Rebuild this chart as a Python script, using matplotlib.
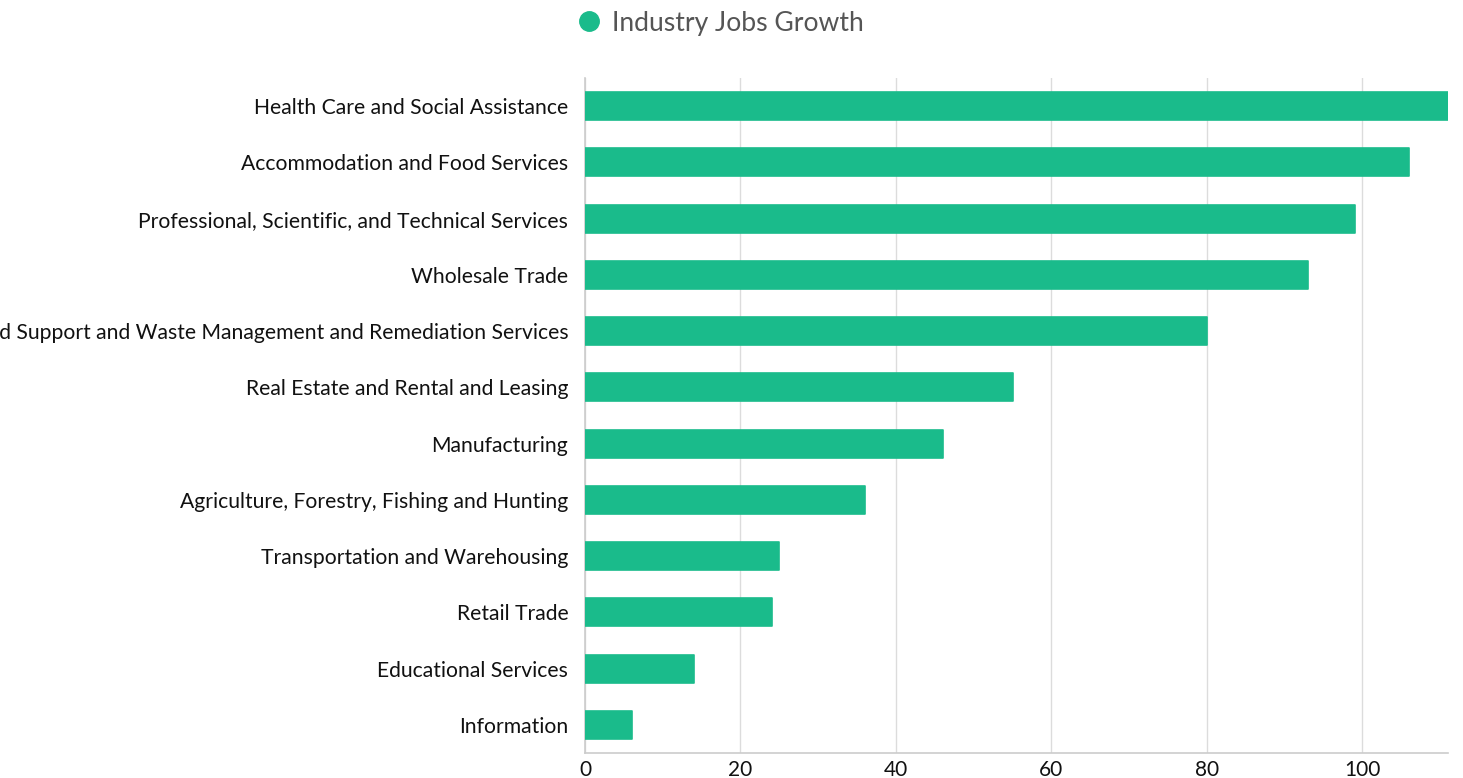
import matplotlib
matplotlib.use("Agg")
import matplotlib.pyplot as plt
from matplotlib.lines import Line2D

industries = [
    "Health Care and Social Assistance",
    "Accommodation and Food Services",
    "Professional, Scientific, and Technical Services",
    "Wholesale Trade",
    "Administrative and Support and Waste Management and Remediation Services",
    "Real Estate and Rental and Leasing",
    "Manufacturing",
    "Agriculture, Forestry, Fishing and Hunting",
    "Transportation and Warehousing",
    "Retail Trade",
    "Educational Services",
    "Information",
]
jobs_growth = [111, 106, 99, 93, 80, 55, 46, 36, 25, 24, 14, 6]
x_ticks = [0, 20, 40, 60, 80, 100]

bar_color = "#1ABB8B"
plt.rcParams["font.family"] = ["Lato", "DejaVu Sans"]

fig = plt.figure(figsize=(14.63, 7.78), dpi=100)
ax = fig.add_axes([585 / 1463, 1 - 753 / 778, (1448 - 585) / 1463, (753 - 78) / 778])

pos = list(range(len(industries)))
ax.barh(pos, jobs_growth, height=0.5, color=bar_color, edgecolor=bar_color,
        linewidth=1.2, joinstyle="round", zorder=3)

ax.set_ylim(len(industries) - 0.5, -0.5)
ax.set_xlim(0, 111)
ax.set_yticks(pos)
ax.set_yticklabels(industries)
ax.set_xticks(x_ticks)

ax.grid(axis="x", color="#dcdcdc", linewidth=1, zorder=0)
ax.grid(axis="y", visible=False)
for side in ["top", "right"]:
    ax.spines[side].set_visible(False)
for side in ["left", "bottom"]:
    ax.spines[side].set_color("#cccccc")
    ax.spines[side].set_linewidth(1.2)

ax.tick_params(axis="y", length=0, pad=12, labelsize=15.2, labelcolor="#111111")
ax.tick_params(axis="x", length=0, pad=5, labelsize=15, labelcolor="#111111")

handle = Line2D([], [], marker="o", linestyle="", markersize=14,
                markerfacecolor=bar_color, markeredgecolor=bar_color)
fig.legend([handle], ["Industry Jobs Growth"], loc="center",
           bbox_to_anchor=(720 / 1463, 1 - 23 / 778), frameon=False,
           fontsize=19.1, labelcolor="#555555", handletextpad=0.35,
           handlelength=1.0)

fig.savefig("out.png", dpi=100)
